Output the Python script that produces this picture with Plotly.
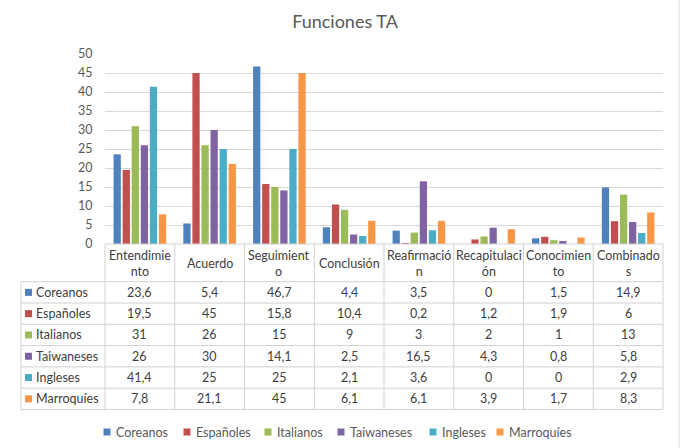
import plotly.graph_objects as go

categories = ["Entendimiento", "Acuerdo", "Seguimiento", "Conclusión", "Reafirmación",
              "Recapitulación", "Conocimiento", "Combinados"]
header_labels = ["Entendimie<br>nto", "Acuerdo", "Seguimient<br>o", "Conclusión",
                 "Reafirmació<br>n", "Recapitulaci<br>ón", "Conocimien<br>to", "Combinado<br>s"]

coreanos = [23.6, 5.4, 46.7, 4.4, 3.5, 0, 1.5, 14.9]
espanoles = [19.5, 45, 15.8, 10.4, 0.2, 1.2, 1.9, 6]
italianos = [31, 26, 15, 9, 3, 2, 1, 13]
taiwaneses = [26, 30, 14.1, 2.5, 16.5, 4.3, 0.8, 5.8]
ingleses = [41.4, 25, 25, 2.1, 3.6, 0, 0, 2.9]
marroquies = [7.8, 21.1, 45, 6.1, 6.1, 3.9, 1.7, 8.3]

series_names = ["Coreanos", "Españoles", "Italianos", "Taiwaneses", "Ingleses", "Marroquíes"]
series_values = [coreanos, espanoles, italianos, taiwaneses, ingleses, marroquies]
colors = ["#4F81BD", "#C0504D", "#9BBB59", "#8064A2", "#4BACC6", "#F79646"]

W, H = 685, 448
L, R, T, B = 105, 22, 54, 204
PW = W - L - R
PH = H - T - B
FONT = "Lato, 'Open Sans', sans-serif"
GRID = "#d9d9d9"
TXT = "#404040"
LBL = "#595959"


def px(p):
    return (p - L) / PW


def py(p):
    return (H - B - p) / PH


def fmt(v):
    if float(v) == int(v):
        return str(int(v))
    return str(v).replace(".", ",")


fig = go.Figure()
for name, vals, col in zip(series_names, series_values, colors):
    fig.add_trace(go.Bar(x=categories, y=vals, name=name, marker_color=col,
                         marker_line_width=0, showlegend=False))

shapes = []
annotations = []

tab_top = 244
hdr_bottom = 281.7
row_h = 21.3
n_rows = len(series_names)
tab_bottom = hdr_bottom + n_rows * row_h
label_left = 21
col_w = PW / len(categories)

line = dict(color="#d0d0d0", width=1)
shapes.append(dict(type="line", xref="paper", yref="paper", x0=0, x1=1,
                   y0=py(tab_top), y1=py(tab_top), line=line, layer="above"))
for r in range(n_rows + 1):
    yy = hdr_bottom + r * row_h
    shapes.append(dict(type="line", xref="paper", yref="paper", x0=px(label_left), x1=1,
                       y0=py(yy), y1=py(yy), line=line))
for i in range(len(categories) + 1):
    xx = L + i * col_w
    shapes.append(dict(type="line", xref="paper", yref="paper", x0=px(xx), x1=px(xx),
                       y0=py(tab_top), y1=py(tab_bottom), line=line))
shapes.append(dict(type="line", xref="paper", yref="paper", x0=px(label_left), x1=px(label_left),
                   y0=py(hdr_bottom), y1=py(tab_bottom), line=line))

for i, lab in enumerate(header_labels):
    annotations.append(dict(xref="paper", yref="paper", x=px(L + (i + 0.5) * col_w),
                            y=py((tab_top + hdr_bottom) / 2 + 0.5), text=lab, showarrow=False,
                            xanchor="center", yanchor="middle",
                            font=dict(family=FONT, size=12.5, color=TXT)))

for r, (name, vals, col) in enumerate(zip(series_names, series_values, colors)):
    yc = hdr_bottom + (r + 0.5) * row_h
    shapes.append(dict(type="rect", xref="paper", yref="paper",
                       x0=px(25), x1=px(32), y0=py(yc - 3.5), y1=py(yc + 3.5),
                       fillcolor=col, line=dict(width=0)))
    annotations.append(dict(xref="paper", yref="paper", x=px(34), y=py(yc), text=name,
                            showarrow=False, xanchor="left", yanchor="middle",
                            font=dict(family=FONT, size=12.5, color=TXT)))
    for i, v in enumerate(vals):
        annotations.append(dict(xref="paper", yref="paper", x=px(L + (i + 0.5) * col_w),
                                y=py(yc), text=fmt(v), showarrow=False,
                                xanchor="center", yanchor="middle",
                                font=dict(family=FONT, size=12.5, color=TXT)))

leg_x = [107, 187, 268, 341, 433, 500]
leg_y = 432
for name, col, xx in zip(series_names, colors, leg_x):
    shapes.append(dict(type="rect", xref="paper", yref="paper",
                       x0=px(xx - 3.5), x1=px(xx + 3.5), y0=py(leg_y - 3.5), y1=py(leg_y + 3.5),
                       fillcolor=col, line=dict(width=0)))
    annotations.append(dict(xref="paper", yref="paper", x=px(xx + 7), y=py(leg_y), text=name,
                            showarrow=False, xanchor="left", yanchor="middle",
                            font=dict(family=FONT, size=12.5, color=LBL)))

shapes.append(dict(type="line", xref="paper", yref="paper", x0=px(679), x1=px(679),
                   y0=py(0), y1=py(H), line=dict(color="#d9d9d9", width=1)))

fig.update_layout(
    width=W, height=H,
    margin=dict(l=L, r=R, t=T, b=B, pad=0),
    paper_bgcolor="white", plot_bgcolor="white",
    barmode="group", bargap=0.22, bargroupgap=0.2,
    title=dict(text="Funciones TA", x=px(345), xanchor="center", xref="paper",
               y=1 - 22 / H, yanchor="middle",
               font=dict(family=FONT, size=18, color=LBL)),
    xaxis=dict(range=[-0.5, 7.5], showticklabels=False, showgrid=False, zeroline=False,
               showline=False, ticks=""),
    yaxis=dict(range=[0, 50], dtick=5, tick0=0, showgrid=True, gridcolor=GRID, gridwidth=1,
               zeroline=False, showline=False, ticks="outside", ticklen=9,
               tickcolor="rgba(0,0,0,0)",
               tickfont=dict(family=FONT, size=12.5, color=LBL)),
    shapes=shapes, annotations=annotations,
    showlegend=False,
)

fig.write_html("out.html")
